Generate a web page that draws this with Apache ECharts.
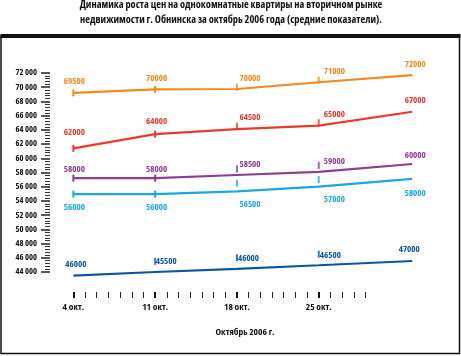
<!DOCTYPE html>
<html>
<head>
<meta charset="utf-8">
<script src="https://cdn.jsdelivr.net/npm/echarts@6/dist/echarts.min.js"></script>
<style>
  html, body { margin: 0; padding: 0; background: #fff; }
  #chart { width: 461px; height: 356px; }
</style>
</head>
<body>
<div id="chart"></div>
<script>
// ---- data ----
const titleLines = [
  'Динамика роста цен на однокомнатные квартиры на вторичном рынке',
  'недвижимости г. Обнинска за октябрь 2006 года (средние показатели).'
];
const xAxisTitle = 'Октябрь 2006 г.';
const days = [4, 11, 18, 25, 33];            // day of October for each point
const xTickDays = [4, 11, 18, 25];
const xTickLabels = ['4 окт.', '11 окт.', '18 окт.', '25 окт.'];
const xMinorTickDays = [4,5,6,7,8,9,10,11,12,13,14,15,16,17,18,19,20,21,22,23,24,25,26,27,28,29];

// drawn line positions
const orangeLine = [69200, 69700, 69750, 70700, 71700];
const redLine    = [61400, 63400, 64100, 64600, 66550];
const purpleLine = [57200, 57200, 57650, 58100, 59200];
const cyanLine   = [54950, 54950, 55350, 56000, 57100];
const blueLine   = [43500, 44000, 44450, 44950, 45550];

// labelled prices
const orangeValues = [69500, 70000, 70000, 71000, 72000];
const redValues    = [62000, 64000, 64500, 65000, 67000];
const purpleValues = [58000, 58000, 58500, 59000, 60000];
const cyanValues   = [56000, 56000, 56500, 57000, 58000];
const blueValues   = [46000, 45500, 46000, 46500, 47000];

// ---- styles ----
const FONT = "'Open Sans', 'DejaVu Sans Condensed', sans-serif";
const FW = 'bold condensed';
const styles = [
  { name: 'orange', color: '#EF8A1E', line: orangeLine, values: orangeValues, onLine: [0, 1], floating: [2, 3],
    align: ['center','center','left','left','center'], dx: [1, 1.5, 2.5, 5, 3], dy: [-11, -11, -11, -11, -11] },
  { name: 'red', color: '#E8392B', line: redLine, values: redValues, onLine: [0, 1], floating: [2, 3],
    align: ['center','center','left','left','center'], dx: [1, 1.5, 2.5, 5, 3], dy: [-16, -13, -12, -11.5, -11] },
  { name: 'purple', color: '#8E3C93', line: purpleLine, values: purpleValues, onLine: [0, 1], floating: [2, 3],
    align: ['center','center','left','left','center'], dx: [1, 1.5, 2.5, 5, 3], dy: [-9, -9, -11, -10, -9] },
  { name: 'cyan', color: '#18A8E4', line: cyanLine, values: cyanValues, onLine: [0, 1], floating: [2, 3],
    align: ['center','center','left','left','center'], dx: [1, 1.5, 2.5, 5, 3], dy: [13, 13, 13, 13, 14.5] },
  { name: 'blue', color: '#0B559F', line: blueLine, values: blueValues, onLine: [], floating: [1, 2, 3],
    align: ['center','left','left','left','center'], dx: [2.5, 0.5, 1, 1, -3], dy: [-11, -10.5, -10.5, -10, -11.5] }
];

const series = [];
styles.forEach(s => {
  series.push({
    name: s.name,
    type: 'line',
    clip: false,
    showSymbol: true,
    showAllSymbol: true,
    symbol: 'rect',
    lineStyle: { color: s.color, width: 2.2 },
    itemStyle: { color: s.color },
    z: 3,
    data: days.map((d, i) => ({
      value: [d, s.line[i]],
      symbolSize: s.onLine.includes(i) ? [2, 7] : 0,
      label: {
        show: true,
        position: 'inside',
        align: s.align[i],
        verticalAlign: 'middle',
        offset: [s.dx[i], s.dy[i]],
        color: s.color,
        fontFamily: FONT,
        fontWeight: FW,
        fontSize: 9,
        formatter: String(s.values[i])
      }
    }))
  });
  series.push({
    name: s.name + ' value',
    type: 'scatter',
    symbol: 'rect',
    symbolSize: [2, 7],
    itemStyle: { color: s.color },
    z: 4,
    data: s.floating.map(i => [days[i], s.values[i]])
  });
});

const chart = echarts.init(document.getElementById('chart'), null, { renderer: 'canvas' });
chart.setOption({
  animation: false,
  backgroundColor: '#fff',
  grid: { left: 50, right: 37.1, top: 73, bottom: 84 },
  xAxis: [
    {
      type: 'value', min: 2, max: 34, offset: 20,
      axisLine: { show: false }, splitLine: { show: false },
      axisTick: { show: true, customValues: xMinorTickDays, length: 6, lineStyle: { color: '#222', width: 1 } },
      axisLabel: {
        show: true, customValues: xTickDays, margin: 10,
        color: '#111', fontFamily: FONT, fontWeight: FW, fontSize: 9.5,
        formatter: v => xTickLabels[xTickDays.indexOf(v)] || ''
      }
    },
    {
      type: 'value', min: 2, max: 34, offset: 20, position: 'bottom',
      axisLine: { show: false }, splitLine: { show: false },
      axisTick: { show: true, customValues: xTickDays, length: 6, lineStyle: { color: '#111', width: 2 } },
      axisLabel: { show: false }
    }
  ],
  yAxis: {
    type: 'value', min: 44000, max: 72000, interval: 2000,
    axisLine: { show: false }, splitLine: { show: false },
    axisTick: { show: true, length: 9, lineStyle: { color: '#222', width: 1.5 } },
    minorTick: { show: true, splitNumber: 5, length: 5, lineStyle: { color: '#333', width: 1 } },
    axisLabel: {
      margin: 13, color: '#111', fontFamily: FONT, fontWeight: FW, fontSize: 8.5,
      formatter: v => (v / 1000) + ' 000'
    }
  },
  graphic: [
    { type: 'rect', shape: { x: 1, y: 36, width: 458.5, height: 317.5 }, style: { fill: 'none', stroke: '#111', lineWidth: 1.5 }, silent: true },
    { type: 'line', shape: { x1: 0.5, y1: 36, x2: 460.5, y2: 36 }, style: { stroke: '#111', lineWidth: 4 }, silent: true },
    { type: 'text', x: 231, y: 5.5, style: { text: titleLines[0], textAlign: 'center', textVerticalAlign: 'middle', fill: '#111', font: "bold condensed 10.4px 'Open Sans'" } },
    { type: 'text', x: 231, y: 20, style: { text: titleLines[1], textAlign: 'center', textVerticalAlign: 'middle', fill: '#111', font: "bold condensed 10.4px 'Open Sans'" } },
    { type: 'text', x: 245, y: 332, style: { text: xAxisTitle, textAlign: 'center', textVerticalAlign: 'middle', fill: '#111', font: "bold condensed 9.5px 'Open Sans'" } }
  ],
  series: series
});
</script>
</body>
</html>
